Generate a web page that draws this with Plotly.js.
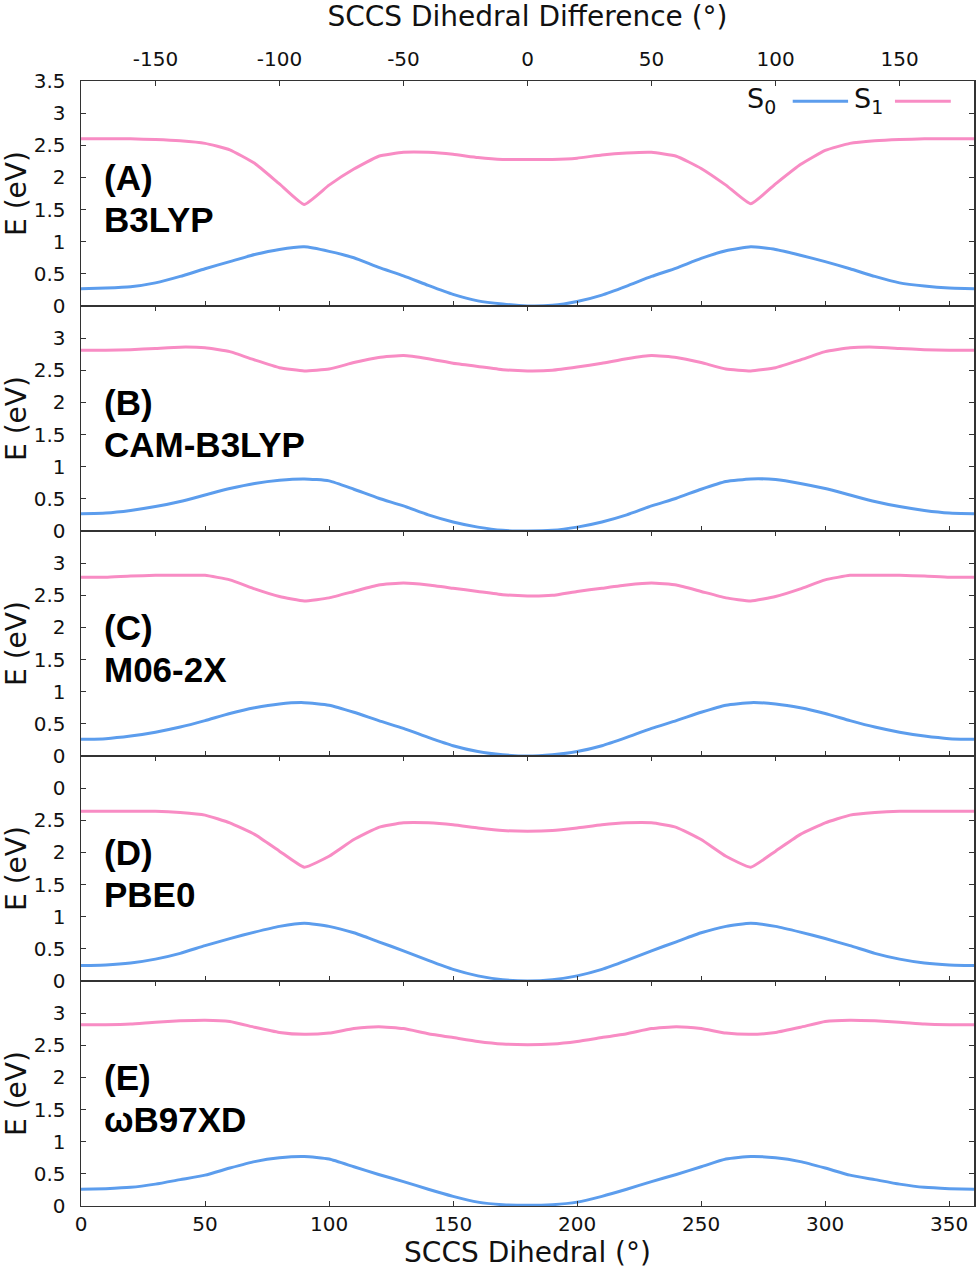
<!DOCTYPE html>
<html>
<head>
<meta charset="utf-8">
<script src="https://cdn.plot.ly/plotly-3.0.1.min.js"></script>
<style>html,body{margin:0;padding:0;background:#fff;}#chart{width:980px;height:1272px;}</style>
</head>
<body>
<div id="chart"></div>
<script>
// ---- data ----
const dihedral = [0,10,20,30,40,50,60,70,80,90,100,110,120,130,140,150,160,170,180,
                  190,200,210,220,230,240,250,260,270,280,290,300,310,320,330,340,350,360];

const panelLabels = ['(A)','(B)','(C)','(D)','(E)'];
const methodNames = ['B3LYP','CAM-B3LYP','M06-2X','PBE0','ωB97XD'];

const s0_B3LYP = [0.27,0.28,0.30,0.36,0.46,0.58,0.69,0.80,0.88,0.92,0.85,0.75,0.60,0.47,0.32,0.18,0.08,0.03,0.00,
                  0.01,0.07,0.17,0.31,0.46,0.59,0.74,0.86,0.92,0.88,0.79,0.69,0.58,0.46,0.36,0.31,0.28,0.27];
const s1_B3LYP = [2.60,2.60,2.60,2.59,2.57,2.53,2.43,2.22,1.90,1.58,1.88,2.13,2.33,2.39,2.39,2.36,2.31,2.28,2.28,
                  2.28,2.30,2.35,2.38,2.39,2.33,2.14,1.88,1.59,1.90,2.20,2.42,2.53,2.57,2.59,2.60,2.60,2.60];

const s0_CAM = [0.27,0.28,0.32,0.38,0.46,0.56,0.66,0.74,0.79,0.81,0.78,0.65,0.51,0.39,0.25,0.14,0.06,0.01,0.00,
                0.01,0.06,0.14,0.25,0.39,0.51,0.65,0.77,0.81,0.80,0.74,0.66,0.56,0.46,0.38,0.32,0.28,0.27];
const s1_CAM = [2.81,2.81,2.82,2.84,2.86,2.85,2.79,2.66,2.54,2.49,2.52,2.62,2.70,2.73,2.68,2.61,2.56,2.51,2.49,
                2.50,2.55,2.61,2.68,2.73,2.70,2.62,2.52,2.49,2.54,2.66,2.79,2.85,2.86,2.84,2.82,2.81,2.81];

const s0_M06 = [0.26,0.27,0.31,0.37,0.45,0.55,0.66,0.75,0.81,0.83,0.79,0.68,0.55,0.43,0.29,0.16,0.07,0.02,0.00,
                0.02,0.07,0.16,0.29,0.43,0.55,0.68,0.79,0.83,0.81,0.75,0.66,0.55,0.45,0.37,0.31,0.27,0.26];
const s1_M06 = [2.78,2.78,2.80,2.81,2.81,2.81,2.74,2.60,2.48,2.41,2.46,2.56,2.66,2.69,2.66,2.61,2.56,2.51,2.49,
                2.50,2.56,2.61,2.66,2.69,2.66,2.56,2.46,2.41,2.48,2.60,2.74,2.81,2.81,2.81,2.80,2.78,2.78];

const s0_PBE0 = [0.24,0.25,0.28,0.34,0.43,0.55,0.66,0.76,0.85,0.90,0.85,0.75,0.61,0.47,0.32,0.18,0.08,0.02,0.00,
                 0.02,0.08,0.18,0.32,0.47,0.61,0.75,0.85,0.90,0.85,0.76,0.66,0.55,0.43,0.34,0.28,0.25,0.24];
const s1_PBE0 = [2.64,2.64,2.64,2.64,2.62,2.58,2.46,2.28,2.02,1.77,1.94,2.20,2.39,2.46,2.46,2.43,2.38,2.34,2.33,
                 2.34,2.38,2.43,2.46,2.46,2.39,2.20,1.94,1.77,2.02,2.28,2.46,2.58,2.62,2.64,2.64,2.64,2.64];

const s0_wB97XD = [0.26,0.27,0.29,0.34,0.41,0.48,0.59,0.69,0.75,0.77,0.73,0.61,0.49,0.38,0.26,0.15,0.06,0.02,0.01,
                   0.02,0.06,0.15,0.26,0.38,0.49,0.61,0.73,0.77,0.75,0.69,0.59,0.48,0.41,0.34,0.29,0.27,0.26];
const s1_wB97XD = [2.82,2.82,2.83,2.86,2.88,2.89,2.87,2.78,2.70,2.67,2.69,2.76,2.79,2.76,2.68,2.62,2.56,2.52,2.51,
                   2.52,2.56,2.62,2.68,2.76,2.79,2.76,2.69,2.67,2.70,2.78,2.87,2.89,2.88,2.86,2.83,2.82,2.82];

const s0Series = [s0_B3LYP, s0_CAM, s0_M06, s0_PBE0, s0_wB97XD];
const s1Series = [s1_B3LYP, s1_CAM, s1_M06, s1_PBE0, s1_wB97XD];

const bottomTickVals = [0,50,100,150,200,250,300,350];
const bottomTickText = ['0','50','100','150','200','250','300','350'];
const topTickVals = [-150,-100,-50,0,50,100,150];
const topTickText = ['-150','-100','-50','0','50','100','150'];
const yTickVals = [0,0.5,1,1.5,2,2.5,3];
const yTickTextStd = ['0','0.5','1','1.5','2','2.5','3'];
const yTickTextD = ['0','0.5','1','1.5','2','2.5','0'];

// ---- styles ----
const BLUE = '#5c9ded';
const PINK = '#f88cc4';
const AX = '#333333';
const tickFont = {family: 'DejaVu Sans', size: 20, color: '#111'};
const titleFont = {family: 'DejaVu Sans', size: 28, color: '#111'};

const traces = [];
const layout = {
  width: 980, height: 1272,
  margin: {l: 81, r: 6, t: 81, b: 66},
  paper_bgcolor: '#fff', plot_bgcolor: '#fff',
  showlegend: false,
  annotations: [], shapes: []
};

const nP = 5;
for (let i = 0; i < nP; i++) {
  const n = i + 1;
  const xs = n === 1 ? '' : String(n);
  const ys = xs;
  const topN = n + 5;
  const d0 = 1 - (i + 1) / nP, d1 = 1 - i / nP;

  traces.push({x: dihedral, y: s0Series[i], xaxis: 'x' + xs, yaxis: 'y' + ys, type: 'scatter', mode: 'lines',
               line: {color: BLUE, width: 3, shape: 'spline', smoothing: 0.5}, name: 'S0', hoverinfo: 'skip'});
  traces.push({x: dihedral, y: s1Series[i], xaxis: 'x' + xs, yaxis: 'y' + ys, type: 'scatter', mode: 'lines',
               line: {color: PINK, width: 3, shape: 'spline', smoothing: 0.4}, name: 'S1', hoverinfo: 'skip'});
  traces.push({x: [], y: [], xaxis: 'x' + topN, yaxis: 'y' + ys, type: 'scatter', mode: 'lines', showlegend: false});

  const isLast = (i === nP - 1);
  const xb = {
    domain: [0, 1], anchor: 'y' + ys, range: [0, 360],
    tickmode: 'array', tickvals: bottomTickVals, ticktext: bottomTickText,
    ticks: 'inside', ticklen: 5, tickwidth: 1, tickcolor: AX,
    showline: true, linecolor: AX, linewidth: 1, showgrid: false, zeroline: false,
    showticklabels: isLast, tickfont: tickFont, ticklabelstandoff: 0
  };
  if (isLast) xb.title = {text: 'SCCS Dihedral (°)', font: titleFont, standoff: 4};
  layout['xaxis' + xs] = xb;

  const xt = {
    overlaying: 'x' + xs, anchor: 'y' + ys, side: 'top', range: [-180, 180],
    tickmode: 'array', tickvals: topTickVals, ticktext: topTickText,
    ticks: 'inside', ticklen: 5, tickwidth: 1, tickcolor: AX,
    showline: true, linecolor: AX, linewidth: 1, showgrid: false, zeroline: false,
    showticklabels: i === 0, tickfont: tickFont, ticklabelstandoff: 6
  };
  if (i === 0) xt.title = {text: 'SCCS Dihedral Difference (°)', font: titleFont, standoff: 12};
  layout['xaxis' + topN] = xt;

  const tv = i === 0 ? yTickVals.concat([3.5]) : yTickVals;
  const tt = i === 0 ? yTickTextStd.concat(['3.5']) : (i === 3 ? yTickTextD : yTickTextStd);
  layout['yaxis' + ys] = {
    domain: [d0, d1], anchor: 'x' + xs, range: [0, 3.5],
    tickmode: 'array', tickvals: tv, ticktext: tt,
    ticks: 'inside', ticklen: 5, tickwidth: 1, tickcolor: AX,
    showline: true, linecolor: AX, linewidth: 1.5, mirror: 'ticks', showgrid: false, zeroline: false,
    tickfont: tickFont, ticklabelstandoff: 10,
    title: {text: 'E (eV)', font: titleFont, standoff: 0}
  };

  layout.annotations.push({
    xref: 'paper', yref: 'y' + ys + ' domain', x: 0.023, y: 0.57, xanchor: 'left', yanchor: 'middle',
    text: '<b>' + panelLabels[i] + '</b>', showarrow: false,
    font: {family: 'Liberation Sans', size: 35, color: '#000'}
  });
  layout.annotations.push({
    xref: 'paper', yref: 'y' + ys + ' domain', x: 0.023, y: 0.385, xanchor: 'left', yanchor: 'middle',
    text: '<b>' + methodNames[i] + '</b>', showarrow: false,
    font: {family: 'Liberation Sans', size: 35, color: '#000'}
  });
}

// legend (gnuplot style: label then line sample), inside panel A
const legFont = {family: 'DejaVu Sans', size: 27, color: '#111'};
layout.annotations.push({xref: 'paper', yref: 'y domain', x: 0.7805, y: 0.915, xanchor: 'right', yanchor: 'middle',
  text: 'S<sub>0</sub>', showarrow: false, font: legFont});
layout.annotations.push({xref: 'paper', yref: 'y domain', x: 0.863, y: 0.915, xanchor: 'left', yanchor: 'middle',
  text: 'S<sub>1</sub>', showarrow: false, font: legFont});
layout.shapes.push({type: 'line', xref: 'paper', yref: 'y domain', x0: 0.797, x1: 0.859, y0: 0.91, y1: 0.91,
  line: {color: BLUE, width: 3}});
layout.shapes.push({type: 'line', xref: 'paper', yref: 'y domain', x0: 0.9115, x1: 0.974, y0: 0.91, y1: 0.91,
  line: {color: PINK, width: 3}});

Plotly.newPlot('chart', traces, layout, {staticPlot: true, displayModeBar: false});
</script>
</body>
</html>
